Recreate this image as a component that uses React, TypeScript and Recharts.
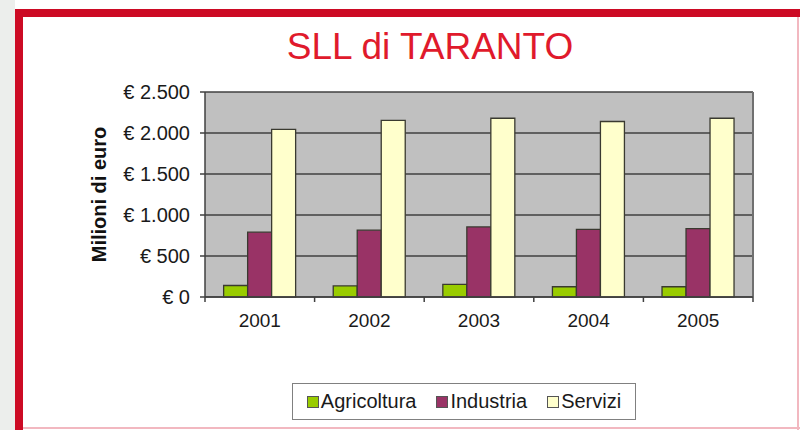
import React from 'react';
import { BarChart, Bar, XAxis, YAxis, CartesianGrid, Legend } from 'recharts';

const years = ['2001', '2002', '2003', '2004', '2005'];
const agricoltura = [140, 135, 155, 125, 125];
const industria = [790, 815, 855, 825, 835];
const servizi = [2045, 2155, 2180, 2140, 2180];
const yTicks = [0, 500, 1000, 1500, 2000, 2500];

const seriesNames = ['Agricoltura', 'Industria', 'Servizi'];
const seriesColors = ['#99cc00', '#993366', '#ffffcc'];

const data = years.map((y, i) => ({
  year: y,
  Agricoltura: agricoltura[i],
  Industria: industria[i],
  Servizi: servizi[i],
}));

const FONT = '"Liberation Sans", Arial, sans-serif';

const fmtEuro = (v: number) => '€ ' + String(v).replace(/\B(?=(\d{3})+(?!\d))/g, '.');

const XTick = (props: any) => {
  const { x, y, payload, index, visibleTicksCount, width } = props;
  const margin = 17;
  const axisY = y - margin;
  const half = payload.offset || width / visibleTicksCount / 2;
  return (
    <g>
      <line x1={x - half} x2={x - half} y1={axisY} y2={axisY + 5} stroke="#404040" strokeWidth={1.5} />
      {index === visibleTicksCount - 1 && (
        <line x1={x + half} x2={x + half} y1={axisY} y2={axisY + 5} stroke="#404040" strokeWidth={1.5} />
      )}
      <text x={x} y={y} dy="0.71em" textAnchor="middle" fontSize={19} fill="#1a1a1a" fontFamily={FONT}>
        {payload.value}
      </text>
    </g>
  );
};

const YLabel = (props: any) => {
  const { viewBox } = props;
  const cx = viewBox.x + 9;
  const cy = viewBox.y + viewBox.height / 2;
  return (
    <text
      x={cx}
      y={cy}
      transform={`rotate(-90, ${cx}, ${cy})`}
      textAnchor="middle"
      dominantBaseline="central"
      fontSize={20}
      fontWeight="bold"
      fill="#111"
      fontFamily={FONT}
    >
      Milioni di euro
    </text>
  );
};

const LegendBox = () => (
  <div
    style={{
      width: '100%',
      height: '100%',
      boxSizing: 'border-box',
      border: '1.5px solid #808080',
      display: 'flex',
      alignItems: 'center',
      justifyContent: 'center',
      gap: 20,
      fontFamily: FONT,
      fontSize: 20,
      color: '#1a1a1a',
      background: '#fff',
    }}
  >
    {seriesNames.map((n, i) => (
      <span key={n} style={{ display: 'flex', alignItems: 'center' }}>
        <span
          style={{
            display: 'inline-block',
            width: 10,
            height: 10,
            background: seriesColors[i],
            border: '1px solid #555',
            marginRight: 2,
          }}
        />
        {n}
      </span>
    ))}
  </div>
);

export default function App() {
  return (
    <div style={{ position: 'absolute', left: 0, top: 0, width: 800, height: 430, background: '#fff', overflow: 'hidden' }}>
      {/* frame */}
      <div style={{ position: 'absolute', left: 0, top: 0, width: 15, height: 430, background: '#eceeec' }} />
      <div style={{ position: 'absolute', left: 15, top: 9, width: 785, height: 8, background: '#cc0a24' }} />
      <div style={{ position: 'absolute', left: 15, top: 9, width: 8, height: 421, background: '#cc0a24' }} />
      <div style={{ position: 'absolute', left: 797, top: 17, width: 2, height: 413, background: '#f2b8c0' }} />
      <div style={{ position: 'absolute', left: 23, top: 427, width: 777, height: 2, background: '#f2b8c0' }} />
      <div
        style={{
          position: 'absolute',
          left: 0,
          width: 860,
          top: 27,
          textAlign: 'center',
          fontFamily: FONT,
          fontSize: 37,
          color: '#e01a2c',
          lineHeight: '40px',
        }}
      >
        SLL di TARANTO
      </div>
      <div style={{ position: 'absolute', left: 0, top: 0 }}>
        <BarChart
          width={800}
          height={430}
          data={data}
          margin={{ top: 92, right: 47, left: 90, bottom: 56 }}
          barCategoryGap="17%"
          barGap={0}
        >
          <CartesianGrid vertical={false} stroke="#404040" strokeWidth={1.5} fill="#c0c0c0" fillOpacity={1} />
          <CartesianGrid
            horizontal={false}
            stroke="#707070"
            strokeWidth={2}
            verticalCoordinatesGenerator={({ offset }: any) => [offset.left + offset.width]}
          />
          <XAxis
            dataKey="year"
            axisLine={{ stroke: '#404040', strokeWidth: 1.5 }}
            tickLine={false}
            tickSize={0}
            tickMargin={17}
            height={40}
            tick={<XTick />}
            interval={0}
          />
          <YAxis
            width={115}
            domain={[0, 2500]}
            ticks={yTicks}
            tickFormatter={fmtEuro}
            axisLine={{ stroke: '#404040', strokeWidth: 1.5 }}
            tickLine={{ stroke: '#404040', strokeWidth: 1.5 }}
            tickSize={5}
            tickMargin={10}
            tick={{ fontSize: 20, fill: '#1a1a1a', fontFamily: FONT }}
            label={<YLabel />}
          />
          <Legend
            content={<LegendBox />}
            wrapperStyle={{ position: 'absolute', left: 292, top: 383, width: 344, height: 37, bottom: 'auto' }}
          />
          {seriesNames.map((n, i) => (
            <Bar key={n} dataKey={n} fill={seriesColors[i]} stroke="#3a3a30" strokeWidth={1.3} isAnimationActive={false} />
          ))}
        </BarChart>
      </div>
    </div>
  );
}
